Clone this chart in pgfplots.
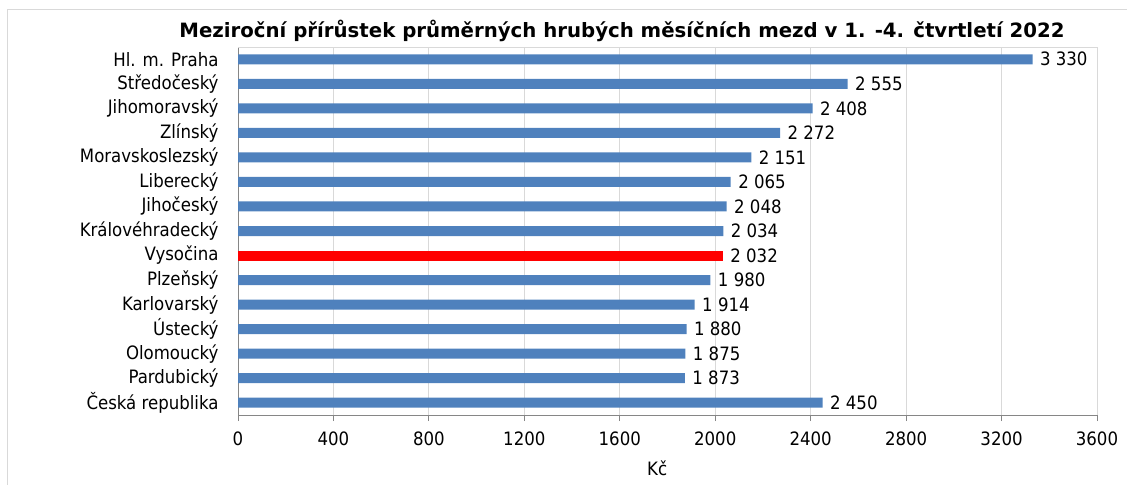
\documentclass[border=0pt]{standalone}
\usepackage{pgfplots}
\usepackage{pgfplotstable}
\pgfplotsset{compat=1.18}
\usepackage{fontspec}
\setmainfont{DejaVu Sans Condensed}
\newfontfamily\titlefont{DejaVu Sans}
\definecolor{barblue}{HTML}{4F81BD}
\definecolor{gridgray}{HTML}{D9D9D9}
\definecolor{axgray}{HTML}{868686}
\pgfplotstableread{
x y label
3330 0 {3 330}
2555 1 {2 555}
2408 2 {2 408}
2272 3 {2 272}
2151 4 {2 151}
2065 5 {2 065}
2048 6 {2 048}
2034 7 {2 034}
1980 9 {1 980}
1914 10 {1 914}
1880 11 {1 880}
1875 12 {1 875}
1873 13 {1 873}
2450 14 {2 450}
}\blue
\pgfplotstableread{
x y label
2032 8 {2 032}
}\red
\begin{document}
\begin{tikzpicture}
\useasboundingbox (0bp,0bp) rectangle (1127bp,485bp);
\draw[gridgray, line width=1bp] (7bp,0bp) -- (7bp,475bp) -- (1127bp,475bp);
\node[font=\titlefont\bfseries\fontsize{19.8}{23}\selectfont] at (622bp,454bp) {Meziroční přírůstek průměrných hrubých měsíčních mezd v 1. -4. čtvrtletí 2022};
\begin{axis}[
  at={(238bp,70bp)}, anchor=south west,
  scale only axis, width=859bp, height=368bp,
  xmin=0, xmax=3600, ymin=-0.5, ymax=14.5,
  y dir=reverse,
  axis lines*=left,
  axis line style={axgray, line width=0.8bp},
  xtick={0,400,...,3600},
  xmajorgrids, grid style={gridgray, line width=0.8bp},
  tick align=outside,
  major tick length=6bp,
  minor tick length=6bp,
  tick style={axgray, line width=0.8bp},
  ytick={0,...,14},
  yticklabels={Hl. m. Praha,Středočeský,Jihomoravský,Zlínský,Moravskoslezský,Liberecký,Jihočeský,Královéhradecký,Vysočina,Plzeňský,Karlovarský,Ústecký,Olomoucký,Pardubický,Česká republika},
  minor ytick={-0.5,0.5,...,14.5},
  ytick style={draw=none},
  minor tick style={axgray, line width=0.8bp},
  yticklabel style={xshift=-10bp},
  xticklabel style={yshift=-7bp},
  /pgf/number format/assume math mode=true,
  /pgf/number format/1000 sep={},
  tick label style={font=\fontsize{18.5}{22}\selectfont, text=black},
  xlabel={Kč},
  xlabel style={at={(axis description cs:0.488,0)}, anchor=center, yshift=-53bp, font=\fontsize{18.5}{22}\selectfont},
  xbar, bar width=10bp, bar shift=0pt,
  nodes near coords,
  point meta=explicit symbolic,
  every node near coord/.append style={font=\fontsize{18.5}{22}\selectfont, text=black, anchor=west, xshift=4bp},
  clip=false,
]
\addplot[draw=none, fill=barblue] table[x=x, y=y, meta=label] {\blue};
\addplot[draw=none, fill=red] table[x=x, y=y, meta=label] {\red};
\draw[gridgray, line width=0.8bp] (rel axis cs:0,1) -- (rel axis cs:1,1) -- (rel axis cs:1,0);
\end{axis}
\end{tikzpicture}
\end{document}
